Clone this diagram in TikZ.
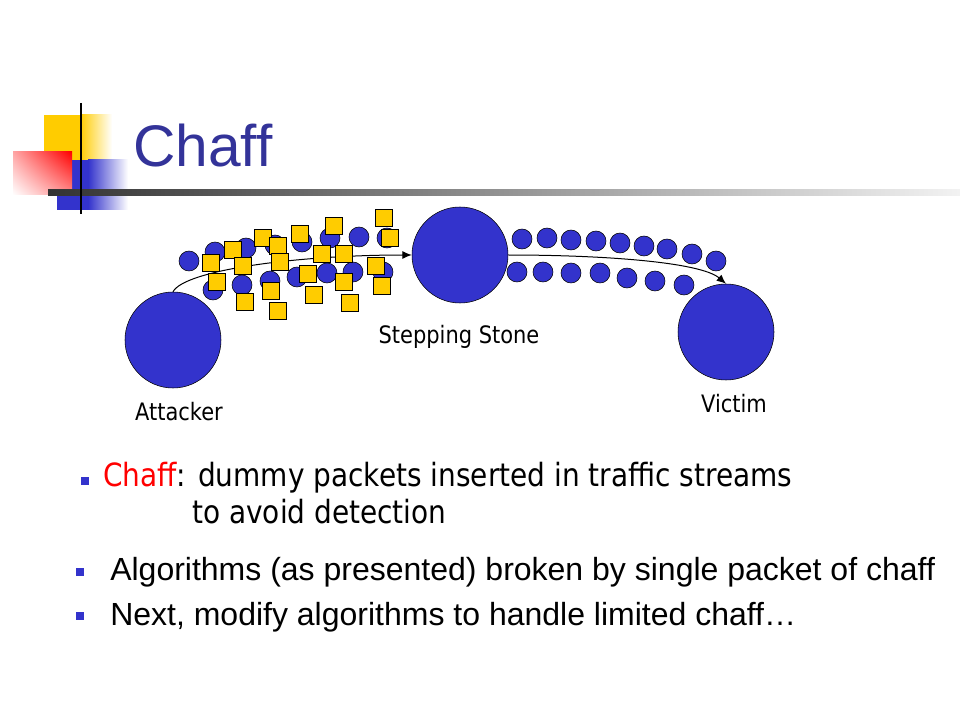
\documentclass[tikz,border=0pt]{standalone}
\usepackage{fontspec}
\usetikzlibrary{shadings,arrows.meta}
\setmainfont{Liberation Sans}
\newfontfamily\tahoma[FakeStretch=0.874]{DejaVu Sans}
\definecolor{pktblue}{RGB}{51,51,204}
\definecolor{chaffyellow}{RGB}{255,204,0}
\definecolor{titleblue}{RGB}{51,51,153}
\begin{document}
\begin{tikzpicture}[x=0.75pt,y=-0.75pt,
    host/.style={circle,draw=black,fill=pktblue,minimum size=72pt,inner sep=0pt},
    packet/.style={circle,draw=black,fill=pktblue,minimum size=15pt,inner sep=0pt},
    chaff/.style={rectangle,draw=black,fill=chaffyellow,minimum size=12.75pt,inner sep=0pt},
    hostname/.style={font=\tahoma\fontsize{18}{22}\selectfont,anchor=base,inner sep=0pt},
    bulletsq/.style={rectangle,fill=pktblue,minimum size=6pt,inner sep=0pt},
    bodytext/.style={anchor=base west,inner sep=0pt},
    route/.style={line width=0.75pt,-{Latex[length=7pt,width=6pt]}}
]
\useasboundingbox (0,0) rectangle (960,720);

% title bar
\fill[chaffyellow] (44,115) rectangle (80,160);
\shade[left color=chaffyellow,right color=white] (80,115) rectangle (112,160);
\fill[pktblue] (57,160) rectangle (88,210);
\shade[left color=pktblue,right color=white] (88,160) rectangle (128,210);
\shade[upper right=red,upper left=red!35,lower right=red!45,lower left=white] (13,152) rectangle (72,195);
\shade[left color=black!80,middle color=black!60,right color=black!5] (48,190) rectangle (960,196);
\draw[line width=2pt] (81,103) -- (81,214);
\node[bodytext,text=titleblue,font=\fontsize{44}{53}\selectfont] (title) at (133,167) {Chaff};

% hosts
\node[host] (attacker) at (173,340) {};
\node[host] (stone) at (460,255) {};
\node[host] (victim) at (726,332) {};
\node[hostname] (attackername) at (179,420) {Attacker};
\node[hostname] (stonename) at (459,343) {Stepping Stone};
\node[hostname] (victimname) at (734,412) {Victim};

% packets before and after the stepping stone
\foreach \x/\y [count=\i] in {189/261,215/252,246/248,275/245,302/242,330/238,359/237,387/238,
    213/290,242/285,270/281,297/277,327/273,353/272,383/272}
  \node[packet] (lead\i) at (\x,\y) {};
\foreach \x/\y [count=\i] in {522/239,547/238,571/240,596/241,620/243,644/246,667/249,692/254,716/261,
    517/272,543/272,571/273,600/273,627/278,655/281,684/285}
  \node[packet] (relay\i) at (\x,\y) {};

\draw[route] (attacker.north) .. controls +(12,-22) and +(-112,0) .. (stone.west);
\draw[route] (stone.east) .. controls +(92,0) and +(-26,-22) .. (victim.north);

% chaff
\foreach \x/\y [count=\i] in {211/263,233/250,263/238,278/246,243/266,280/262,217/282,245/302,271/291,278/311,
    300/234,334/226,322/254,344/254,308/274,314/295,344/282,350/303,384/218,390/238,376/266,382/286}
  \node[chaff] (chaff\i) at (\x,\y) {};

% bullets
\node[bulletsq] (dot1) at (85,481) {};
\node[bodytext,font=\tahoma\fontsize{24}{29}\selectfont] (defn) at (103,486) {\textcolor{red}{Chaff}: dummy packets inserted in traffic streams};
\node[bodytext,font=\tahoma\fontsize{24}{29}\selectfont] (defnmore) at (192,523) {to avoid detection};
\node[bulletsq] (dot2) at (80,572) {};
\node[bodytext,font=\fontsize{24}{29}\selectfont] (point1) at (110,580) {Algorithms (as presented) broken by single packet of chaff};
\node[bulletsq] (dot3) at (80,616) {};
\node[bodytext,font=\fontsize{24}{29}\selectfont] (point2) at (110,625) {Next, modify algorithms to handle limited chaff\dots};
\end{tikzpicture}
\end{document}
